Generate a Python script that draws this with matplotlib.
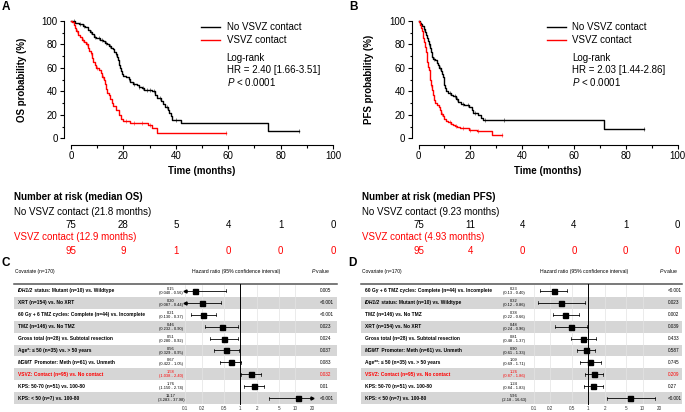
import numpy as np
import matplotlib
matplotlib.use('Agg')
import matplotlib.pyplot as plt
from matplotlib.patches import Rectangle
from matplotlib.transforms import blended_transform_factory

plt.rcParams['font.family'] = ['Liberation Sans', 'DejaVu Sans']
plt.rcParams['mathtext.fontset'] = 'custom'
plt.rcParams['mathtext.it'] = 'Liberation Sans:italic'
plt.rcParams['mathtext.rm'] = 'Liberation Sans'

W, H = 685, 412
RED = '#ff0000'
BAND = '#d6d6d6'

# ---------------- data ----------------
time_ticks = [0, 20, 40, 60, 80, 100]

# OS, no VSVZ contact (step times, survival %)
os_no_t = [0, 1.5, 3, 4.5, 5.5, 6.5, 7.2, 8, 8.8, 9.5, 11, 12.3, 13, 13.8, 14.5, 15.2, 16, 16.5,
           17, 17.5, 18, 18.3, 18.8, 19, 19.5, 20, 21, 22, 22.5, 23.5, 25, 26, 27, 28, 31, 32,
           33, 34.5, 35.2, 36, 37, 37.5, 38, 38.5, 42, 75]
os_no_s = [100, 98.7, 97.3, 96, 94.7, 92, 90.7, 89.3, 86.7, 85.3, 84, 82.7, 81.3, 80, 78.7, 77.3,
           76, 73.3, 72, 69.3, 66.7, 62.7, 60, 57.3, 54.7, 53.3, 52, 50.7, 48, 46.7, 45.3, 44,
           42.7, 41.3, 40, 37.3, 34.7, 32, 29.3, 26.7, 24, 21.3, 18.7, 16, 12.8, 6.4]
os_no_end = 87
os_no_cens = [1, 3.5, 5, 7.5, 9, 10.5, 12, 13.5, 15, 17, 22, 24, 26, 27.5, 29, 30, 31.5, 34, 36.5, 40, 87]

# OS, VSVZ contact
os_v_t = [0, 0.5, 1, 1.5, 2, 2.8, 3.5, 4.2, 5, 5.8, 6.5, 7, 7.5, 8, 8.5, 9, 9.5, 10.5, 11.5, 12,
          12.5, 13, 13.3, 13.6, 14.5, 15, 15.5, 16, 17, 18.5, 19, 20, 22.5, 29.5, 31, 33]
os_v_s = [100, 98.9, 96.8, 93.7, 91.6, 88.4, 86.3, 84.2, 82.1, 80, 76.8, 74.7, 72.6, 68.4, 65.3,
          62.1, 60, 57.9, 55.8, 52.6, 49.5, 46.3, 42.1, 38.9, 36.8, 33.7, 30.5, 27.4, 24.2, 20,
          16.8, 14.7, 13.1, 11.0, 8.8, 4.4]
os_v_end = 59
os_v_cens = [2.4, 4.6, 6.2, 7.7, 9.8, 12.2, 21, 24, 27, 30, 59]

# PFS, no VSVZ contact
pfs_no_t = [0, 0.5, 1, 1.5, 2, 2.5, 3, 3.3, 3.7, 4, 4.4, 4.8, 5.1, 5.5, 6.5, 7, 7.5, 8, 8.5, 9,
            9.3, 9.7, 10, 10.3, 10.8, 11.5, 12.5, 13.5, 14.5, 15.3, 16.5, 17.5, 19.5, 20.5, 21,
            23, 24.3, 25, 71.5]
pfs_no_s = [100, 98.7, 97.3, 96, 93.3, 90.7, 88, 85.3, 82.7, 80, 77.3, 73.3, 69.3, 68, 66.7, 64,
            62.7, 60, 57.3, 54.7, 52, 49.3, 45.3, 42.7, 40, 38.7, 37.3, 36, 33.3, 30.7, 29.3, 28,
            26.7, 24, 21.3, 20, 17.6, 15.6, 7.8]
pfs_no_end = 87
pfs_no_cens = [2.2, 4.2, 6, 8.2, 12, 14, 15, 17, 19, 22, 25.5, 33, 87]

# PFS, VSVZ contact
pfs_v_t = [0, 0.3, 0.6, 1, 1.3, 1.6, 1.9, 2.2, 2.5, 2.8, 3.1, 3.4, 3.7, 4, 4.3, 4.6, 4.9, 5.2,
           5.5, 5.8, 6.3, 7, 7.8, 8.3, 8.8, 9.3, 10, 10.5, 11.5, 12.5, 13.5, 14, 15, 16, 19.5,
           22.5, 28.5]
pfs_v_s = [100, 98.9, 96.8, 93.7, 91.6, 88.4, 85.3, 82.1, 77.9, 73.7, 69.5, 65.3, 61.1, 57.9, 53.7,
           49.5, 45.3, 41.1, 36.8, 32.6, 30.5, 28.4, 26.3, 24.2, 21.1, 18.9, 16.8, 14.7, 13.7,
           12.6, 11.6, 10.5, 9.5, 8.4, 7.4, 6.3, 3.2]
pfs_v_end = 32.3
pfs_v_cens = [3.2, 5, 9, 12, 14.5, 17, 20, 23, 32.3]

risk_os_no = [75, 28, 5, 4, 1, 0]
risk_os_v = [95, 9, 1, 0, 0, 0]
risk_pfs_no = [75, 11, 4, 4, 1, 0]
risk_pfs_v = [95, 4, 0, 0, 0, 0]

# Forest C (OS)
c_labels = ['IDH1/2 status: Mutant (n=10) vs. Wildtype',
            'XRT (n=154) vs. No XRT',
            '60 Gy + 6 TMZ cycles: Complete (n=44) vs. Incomplete',
            'TMZ (n=146) vs. No TMZ',
            'Gross total (n=28) vs. Subtotal resection',
            'Age*: \u2264 50 (n=35) vs. > 50 years',
            'MGMT Promoter: Meth (n=61) vs. Unmeth',
            'VSVZ: Contact (n=95) vs. No contact',
            'KPS: 50-70 (n=51) vs. 100-80',
            'KPS: < 50 (n=7) vs. 100-80']
c_hr = [0.15, 0.20, 0.21, 0.46, 0.51, 0.56, 0.67, 1.58, 1.76, 11.17]
c_lo = [0.040, 0.087, 0.130, 0.232, 0.280, 0.329, 0.422, 1.038, 1.150, 3.283]
c_hi = [0.56, 0.44, 0.37, 0.90, 0.92, 0.95, 1.05, 2.40, 2.74, 37.98]
c_p = ['0.005', '<0.001', '<0.001', '0.023', '0.024', '0.037', '0.083', '0.032', '0.01', '<0.001']

# Forest D (PFS)
d_labels = ['60 Gy + 6 TMZ cycles: Complete (n=44) vs. Incomplete',
            'IDH1/2 status: Mutant (n=10) vs. Wildtype',
            'TMZ (n=146) vs. No TMZ',
            'XRT (n=154) vs. No XRT',
            'Gross total (n=28) vs. Subtotal resection',
            'MGMT Promoter: Meth (n=61) vs. Unmeth',
            'Age**: \u2264 50 (n=35) vs. > 50 years',
            'VSVZ: Contact (n=95) vs. No contact',
            'KPS: 50-70 (n=51) vs. 100-80',
            'KPS: < 50 (n=7) vs. 100-80']
d_hr = [0.23, 0.32, 0.38, 0.48, 0.81, 0.90, 1.09, 1.26, 1.24, 5.96]
d_lo = [0.13, 0.12, 0.22, 0.24, 0.48, 0.61, 0.69, 0.87, 0.84, 2.18]
d_hi = [0.40, 0.86, 0.66, 0.96, 1.37, 1.33, 1.71, 1.86, 1.83, 16.63]
d_p = ['<0.001', '0.023', '0.002', '0.039', '0.433', '0.587', '0.745', '0.209', '0.27', '<0.001']

hr_ticks = [0.1, 0.2, 0.5, 1, 2, 5, 10, 20]
italic_words = ['IDH1/2', 'MGMT']

fig = plt.figure(figsize=(W / 100, H / 100), dpi=100)


def box(x0, y0, x1, y1):
    return [x0 / W, 1 - y1 / H, (x1 - x0) / W, (y1 - y0) / H]


def ftext(x, y, s, **kw):
    return fig.text(x / W, 1 - y / H, s, **kw)


def km_axes(x0, ylab, wid):
    ax = fig.add_axes(box(x0, 21, x0 + wid, 138.3))
    ax.patch.set_alpha(0)
    ax.set_xlim(0, 100)
    ax.set_ylim(0, 100)
    for s in ['top', 'right']:
        ax.spines[s].set_visible(False)
    ax.spines['left'].set_position(('outward', 5))
    ax.spines['bottom'].set_position(('outward', 4.5))
    ax.spines['left'].set_bounds(0, 100)
    ax.spines['bottom'].set_bounds(0, 100)
    ax.set_xticks(time_ticks)
    ax.set_xticks(range(10, 100, 20), minor=True)
    ax.set_yticks(range(0, 101, 20))
    ax.set_yticks(range(10, 100, 20), minor=True)
    ax.tick_params(labelsize=7, length=3, width=0.8, pad=1.5)
    ax.tick_params(which='minor', length=1.8, width=0.8)
    ax.set_xlabel('Time (months)', fontweight='bold', fontsize=7)
    ax.set_ylabel(ylab, fontweight='bold', fontsize=7)
    ax.xaxis.set_label_coords(0.5, (138.3 - 166) / 117.3)
    ax.yaxis.set_label_coords(-44 / wid, 0.5)
    return ax


def km(ax, t, s, end, cens, color):
    ax.step(t + [end], s + [s[-1]], where='post', color=color, lw=1.0, clip_on=False)
    idx = np.searchsorted(t, cens, side='right') - 1
    ax.plot(cens, np.array(s)[idx], ls='none', marker='|', ms=3, mew=0.5,
            color=color, alpha=0.7, clip_on=False)


def km_panel(x0, wid, ylab, no, v, hr_txt, risk_no, risk_v, med_name, med_no, med_v, letter):
    ax = km_axes(x0, ylab, wid)
    km(ax, *no, 'k')
    km(ax, *v, RED)
    # legend
    ax.plot([49.5, 56.8], [95, 95], color='k', lw=1.0, clip_on=False)
    ax.plot([49.5, 56.8], [83.8, 83.8], color=RED, lw=1.0, clip_on=False)
    ax.text(59.4, 95, 'No VSVZ contact', fontsize=7, va='center')
    ax.text(59.4, 83.8, 'VSVZ contact', fontsize=7, va='center')
    ax.text(59.4, 68.5, 'Log-rank', fontsize=7, va='center')
    ax.text(59.4, 58.2, hr_txt, fontsize=7, va='center')
    ax.text(59.4, 48, '$P$ < 0.0001', fontsize=7, va='center')
    ftext(x0 - 69, 1, letter, fontsize=8.5, fontweight='bold', va='top')
    # number at risk
    tr = blended_transform_factory(ax.transData, fig.transFigure)
    ftext(x0 - 57, 197, 'Number at risk (median %s)' % med_name, fontsize=7,
          fontweight='bold', va='center')
    ftext(x0 - 57, 211.5, 'No VSVZ contact (%s months)' % med_no, fontsize=7, va='center')
    ftext(x0 - 57, 237.5, 'VSVZ contact (%s months)' % med_v, fontsize=7, va='center',
          color=RED)
    for tt, a, b in zip(time_ticks, risk_no, risk_v):
        ax.text(tt, 1 - 224.5 / H, str(a), transform=tr, fontsize=7, ha='center', va='center')
        ax.text(tt, 1 - 250.5 / H, str(b), transform=tr, fontsize=7, ha='center',
                va='center', color=RED)
    return ax


km_panel(71, 262, 'OS probability (%)', (os_no_t, os_no_s, os_no_end, os_no_cens),
         (os_v_t, os_v_s, os_v_end, os_v_cens), 'HR = 2.40 [1.66-3.51]',
         risk_os_no, risk_os_v, 'OS', '21.8', '12.9', 'A')
km_panel(418.5, 259, 'PFS probability (%)', (pfs_no_t, pfs_no_s, pfs_no_end, pfs_no_cens),
         (pfs_v_t, pfs_v_s, pfs_v_end, pfs_v_cens), 'HR = 2.03 [1.44-2.86]',
         risk_pfs_no, risk_pfs_v, 'PFS', '9.23', '4.93', 'B')


def rich_label(ax, x, y, label, color):
    kw = dict(fontsize=3.55, fontweight='bold', color=color)
    for w in italic_words:
        if label.startswith(w):
            t = ax.text(x, y, w, va='center', style='italic', **kw)
            ax.annotate(label[len(w):], xy=(1, 0), xycoords=t, va='bottom', ha='left', **kw)
            return
    ax.text(x, y, label, va='center', **kw)


def forest(x0, x1, f0, f1, hr_x, p_x, lab_x, labels, hr, lo, hi, pv, lo_fmt, letter):
    top, bot = 285, 404
    tab = fig.add_axes(box(x0, top, x1, bot))
    tab.set_xlim(0, 1)
    tab.set_ylim(10, 0)
    tab.axis('off')
    n = len(labels)
    for i in range(n):
        if i % 2 == 1:
            tab.add_patch(Rectangle((0, i), 1, 1, color=BAND, lw=0))
    tab.plot([0, 1], [-0.12, -0.12], color='#555555', lw=1.1, clip_on=False)
    fx = lambda px: (px - x0) / (x1 - x0)
    for i in range(n):
        col = RED if labels[i].startswith('VSVZ') else 'k'
        rich_label(tab, fx(lab_x), i + 0.5, labels[i], col)
        tab.text(fx(hr_x), i + 0.34, '%.2f' % hr[i], fontsize=2.9, ha='center', va='center',
                 color=col)
        tab.text(fx(hr_x), i + 0.68, ('(' + lo_fmt + ' - %.2f)') % (lo[i], hi[i]), fontsize=2.9,
                 ha='center', va='center', color=col)
        tab.text(fx(p_x), i + 0.5, pv[i], fontsize=3.3, ha='left', va='center', color=col)
    ftext(lab_x - 3, 271, 'Covariate (n=170)', fontsize=3.5, va='center')
    ftext((f0 + f1) / 2 - 12, 271, 'Hazard ratio (95% confidence interval)', fontsize=3.7,
          ha='center', va='center')
    ftext(p_x - 9, 271, '$P$ value', fontsize=3.7, va='center')
    ftext(x0 - 13, 263.5, letter, fontsize=8.5, fontweight='bold', va='center')

    ax = fig.add_axes(box(f0, top, f1, bot))
    ax.patch.set_alpha(0)
    ax.set_xscale('log')
    ax.set_xlim(0.1, 20)
    ax.set_ylim(10, 0)
    for s in ax.spines.values():
        s.set_visible(False)
    ax.set_xticks(hr_ticks)
    ax.set_xticklabels(['%g' % v for v in hr_ticks])
    ax.minorticks_off()
    ax.set_yticks([])
    ax.tick_params(axis='x', labelsize=3.3, length=0, pad=1.2, labelcolor='#333333')
    for v in hr_ticks:
        if v != 1:
            ax.axvline(v, color='#e3e3e3', lw=0.5, zorder=0)
    ax.plot([1, 1], [-0.12, 10], color='k', lw=0.7, clip_on=False)
    for i in range(n):
        y = i + 0.5
        a = max(lo[i], 0.1)
        b = min(hi[i], 20)
        ax.plot([a, b], [y, y], color='k', lw=0.6, clip_on=False)
        if lo[i] < 0.1:
            ax.plot([a], [y], marker='<', ms=2.2, color='k', clip_on=False)
        else:
            ax.plot([a, a], [y - 0.13, y + 0.13], color='k', lw=0.5)
        if hi[i] > 20:
            ax.plot([b], [y], marker='>', ms=2.2, color='k', clip_on=False)
        else:
            ax.plot([b, b], [y - 0.13, y + 0.13], color='k', lw=0.5)
        ax.plot([hr[i]], [y], marker='s', ms=3.6, color='k', zorder=3)


forest(14, 337, 185, 312, 171, 320, 18, c_labels, c_hr, c_lo, c_hi, c_p, '%.3f', 'C')
forest(361, 682, 534, 659, 514, 668, 365, d_labels, d_hr, d_lo, d_hi, d_p, '%.2f', 'D')

fig.savefig('out.png', dpi=100)
